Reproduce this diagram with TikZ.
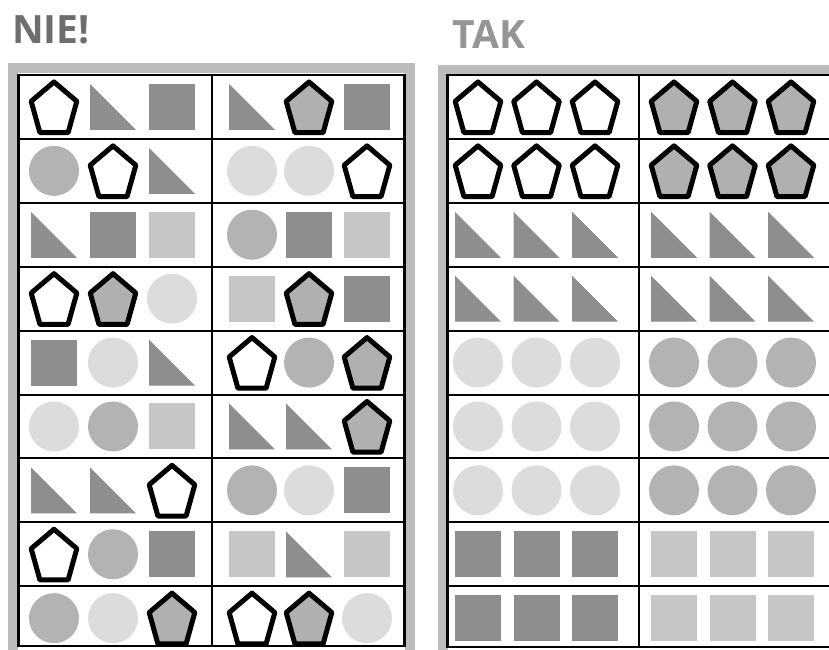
\documentclass[tikz,border=0pt]{standalone}
\usepackage{fontspec}
\setmainfont{Open Sans}

\definecolor{darkshade}{HTML}{8E8E8E}
\definecolor{lightsq}{HTML}{C6C6C6}
\definecolor{lightcirc}{HTML}{DCDCDC}
\definecolor{midcirc}{HTML}{B3B3B3}
\definecolor{pentgray}{HTML}{B0B0B0}
\definecolor{framegray}{HTML}{BCBCBC}
\definecolor{niegray}{HTML}{6E6E6E}
\definecolor{takgray}{HTML}{959595}

\tikzset{
  title/.style={anchor=base west, inner sep=0pt, font=\fontsize{39}{39}\selectfont\bfseries},
  pentline/.style={line width=5pt, line join=round, yshift=-3pt},
  pics/pentW/.style={code={
    \draw[pentline, fill=white] (-90:24 and 28) -- (-18:24 and 28) -- (54:24 and 28)
      -- (126:24 and 28) -- (198:24 and 28) -- cycle;}},
  pics/pentG/.style={code={
    \draw[pentline, fill=pentgray] (-90:24 and 28) -- (-18:24 and 28) -- (54:24 and 28)
      -- (126:24 and 28) -- (198:24 and 28) -- cycle;}},
  pics/triD/.style={code={\fill[darkshade] (-23,-23) -- (-23,23) -- (23,23) -- cycle;}},
  pics/sqD/.style={code={\fill[darkshade] (-23,-23) rectangle (23,23);}},
  pics/sqL/.style={code={\fill[lightsq] (-23,-23) rectangle (23,23);}},
  pics/circL/.style={code={\fill[lightcirc] (0,0) circle (25);}},
  pics/circM/.style={code={\fill[midcirc] (0,0) circle (25);}},
}

\begin{document}
\begin{tikzpicture}[x=1pt, y=-1pt]
\useasboundingbox (0,0) rectangle (829,649);

% Titles
\node[title, text=niegray] (nie) at (12,43) {NIE!};
\node[title, text=takgray] (tak) at (452,48) {TAK};

% Gray frames
\draw[framegray, line width=10pt] (13,68) rectangle (410,670);
\draw[framegray, line width=10pt] (443,70) rectangle (850,670);

% Table grids
\draw[line width=2.5pt] (18.5,75) rectangle (404.5,646);
\draw[line width=2.5pt] (447.5,75) rectangle (845,647);
\foreach \i in {1,...,8} {
  \draw[line width=2pt] (18.5, {75+\i*63.9}) -- (404.5, {75+\i*63.9});
  \draw[line width=2pt] (447.5, {75+\i*63.9}) -- (845, {75+\i*63.9});
}
\draw[line width=2pt] (212,75) -- (212,646);
\draw[line width=2pt] (639,75) -- (639,647);

% Left table: mixed rows
\foreach \items [count=\r] in {
  {pentW,triD,sqD,triD,pentG,sqD},
  {circM,pentW,triD,circL,circL,pentW},
  {triD,sqD,sqL,circM,sqD,sqL},
  {pentW,pentG,circL,sqL,pentG,sqD},
  {sqD,circL,triD,pentW,circM,pentG},
  {circL,circM,sqL,triD,triD,pentG},
  {triD,triD,pentW,circM,circL,sqD},
  {pentW,circM,sqD,sqL,triD,sqL},
  {circM,circL,pentG,pentW,pentG,circL}} {
  \foreach \s [count=\c] in \items {
    \pgfmathsetmacro\xx{{54,113,172,252,309,367}[\c-1]}
    \pic at (\xx, {75+(\r-0.5)*63.9}) {\s};
  }
}

% Right table: sorted rows
\foreach \items [count=\r] in {
  {pentW,pentG},{pentW,pentG},{triD,triD},{triD,triD},
  {circL,circM},{circL,circM},{circL,circM},{sqD,sqL},{sqD,sqL}} {
  \foreach \s [count=\c] in \items {
    \foreach \k in {0,1,2} {
      \pgfmathsetmacro\xx{{478,674}[\c-1]+\k*58.5}
      \pic at (\xx, {75+(\r-0.5)*63.9}) {\s};
    }
  }
}
\end{tikzpicture}
\end{document}
